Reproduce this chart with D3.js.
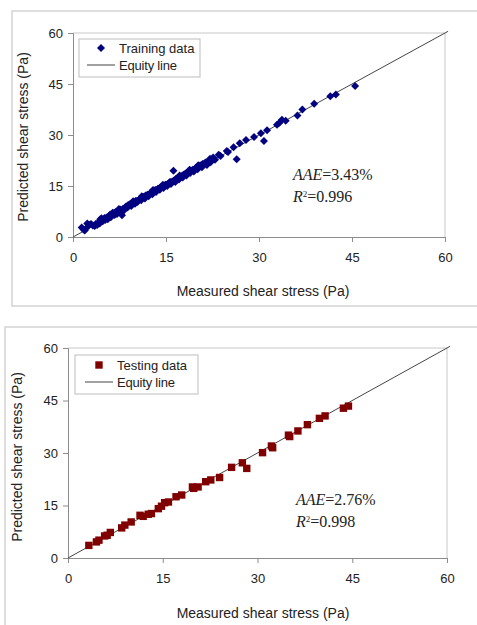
<!DOCTYPE html>
<html>
<head>
<meta charset="utf-8">
<script src="https://cdn.jsdelivr.net/npm/d3@7"></script>
<style>
  html, body { margin: 0; padding: 0; background: #fff; }
  svg { display: block; }
</style>
</head>
<body>
<svg id="chart" width="477" height="625"></svg>
<script>
// Measured vs predicted shear stress (Pa)
const ticks = [0, 15, 30, 45, 60];
const equityLine = [0, 60.5];

const trainMeasured = [
  1.4, 1.7, 1.9, 2.1, 2.3, 2.6, 2.9, 3.2, 3.5, 3.7, 3.9, 4.1, 4.3, 4.5, 4.6, 4.8,
  5.0, 5.2, 5.4, 5.6, 5.8, 6.0, 6.1, 6.3, 6.5, 6.7, 6.9, 7.1, 7.3, 7.5, 7.7, 7.9,
  8.0, 8.2, 8.4, 8.6, 8.8, 9.0, 9.2, 9.4, 9.6, 9.8, 10.0, 10.2, 10.4, 10.6, 10.8,
  11.0, 11.2, 11.4, 11.6, 11.8, 12.0, 12.2, 12.4, 12.6, 12.8, 13.0, 13.2, 13.4,
  13.6, 13.8, 14.0, 14.2, 14.4, 14.6, 14.8, 15.0, 15.2, 15.4, 15.6, 15.8, 16.0,
  16.2, 16.3, 16.5, 16.7, 16.9, 17.1, 17.3, 17.5, 17.7, 17.9, 18.1, 18.3, 18.5,
  18.7, 18.9, 19.1, 19.3, 19.5, 19.7, 19.9, 20.1, 20.3, 20.5, 20.8, 21.0, 21.3,
  21.6, 21.9, 22.2, 22.4, 22.6, 22.9, 23.5, 23.8, 24.8, 25.0, 25.9, 26.4, 26.9,
  27.9, 29.2, 30.3, 30.8, 31.3, 32.9, 33.3, 33.7, 34.3, 36.2, 37.0, 38.9, 41.5,
  42.4, 45.5,
  5.1, 5.9, 6.8, 7.6, 8.5, 9.3, 10.1, 10.9, 11.7, 12.5, 13.3, 14.1, 14.9, 15.7,
  16.6, 17.4, 18.2, 19.0, 19.8, 20.6, 21.4, 22.0, 8.9, 11.3, 13.7, 17.8, 20.9,
  4.4, 6.4, 7.4, 9.7, 11.1, 12.9, 14.5, 17.2, 18.8, 20.2, 22.1
];
const trainPredicted = [
  2.8, 2.2, 1.9, 2.5, 4.0, 3.6, 3.8, 3.4, 3.2, 3.9, 3.5, 4.2, 4.0, 4.8, 5.5, 4.6,
  5.3, 5.0, 5.7, 5.2, 6.1, 6.6, 5.8, 6.4, 7.0, 6.5, 7.2, 6.8, 7.6, 7.9, 7.3, 6.4,
  8.2, 7.8, 8.6, 9.0, 8.7, 9.3, 9.6, 9.1, 9.9, 10.2, 9.8, 10.6, 10.3, 10.9, 11.2,
  10.8, 11.5, 11.8, 11.3, 12.1, 12.4, 12.0, 12.7, 13.0, 12.6, 13.3, 13.7, 13.2,
  13.9, 14.2, 13.9, 14.5, 14.8, 14.4, 15.1, 15.4, 15.0, 15.8, 16.1, 15.6, 16.3,
  19.5, 16.6, 16.2, 17.0, 17.4, 16.9, 17.6, 17.9, 17.5, 18.2, 18.6, 18.1, 18.9,
  19.3, 18.8, 19.5, 19.8, 19.3, 20.1, 20.4, 19.9, 20.7, 21.0, 20.5, 21.4, 21.8,
  21.2, 22.3, 22.0, 22.6, 23.4, 22.7, 24.2, 23.8, 25.3, 25.0, 26.4, 22.9, 27.6,
  28.5, 29.4, 30.5, 28.2, 31.4, 33.0, 33.6, 34.5, 34.2, 35.7, 37.5, 39.2, 41.4,
  41.9, 44.4,
  5.6, 6.3, 7.3, 8.1, 8.9, 9.8, 10.6, 11.4, 12.2, 13.0, 13.8, 14.6, 15.4, 16.2,
  17.1, 17.8, 18.7, 19.5, 20.3, 21.0, 21.9, 22.5, 9.4, 11.8, 14.2, 18.3, 21.5,
  5.2, 7.1, 8.2, 10.5, 12.0, 13.8, 15.4, 18.1, 19.8, 21.1, 23.0
];

const testMeasured = [
  3.3, 4.5, 4.9, 5.8, 6.2, 6.7, 8.5, 9.0, 10.0, 11.4, 11.9, 12.7, 13.2, 14.3,
  14.8, 15.3, 15.9, 17.1, 18.0, 19.7, 19.9, 20.6, 21.8, 22.6, 24.0, 25.9, 27.6,
  28.3, 30.8, 32.2, 32.4, 34.9, 35.1, 36.4, 37.9, 39.8, 40.7, 43.6, 44.4
];
const testPredicted = [
  3.6, 4.6, 5.1, 6.3, 6.5, 7.3, 8.6, 9.4, 10.3, 12.2, 11.9, 12.5, 12.7, 14.1,
  14.8, 15.8, 16.0, 17.5, 18.0, 20.3, 19.9, 20.3, 21.8, 22.3, 23.0, 25.9, 27.2,
  25.6, 30.1, 32.0, 31.5, 35.1, 34.7, 36.3, 38.1, 39.9, 40.6, 42.8, 43.4
];

const AAE_train = "3.43%", R2_train = "0.996";
const AAE_test = "2.76%", R2_test = "0.998";

const svg = d3.select("#chart");
const sans = "'Liberation Sans', Arial, sans-serif";
const serif = "'Liberation Serif', 'Times New Roman', serif";

function panel(cfg) {
  const g = svg.append("g");

  // outer chart frame
  g.append("rect")
    .attr("x", cfg.frame[0]).attr("y", cfg.frame[1])
    .attr("width", cfg.frame[2]).attr("height", cfg.frame[3])
    .attr("fill", "none").attr("stroke", "#d4d4d4").attr("stroke-width", 1.5);

  const x = d3.scaleLinear().domain([0, 60]).range([cfg.left, cfg.right]);
  const y = d3.scaleLinear().domain([0, 60]).range([cfg.bottom, cfg.top]);

  // plot area border (top and right)
  g.append("path")
    .attr("d", `M${cfg.left},${cfg.top}H${cfg.right}V${cfg.bottom}`)
    .attr("fill", "none").attr("stroke", "#c8c8c8").attr("stroke-width", 1);

  const xAxis = g.append("g")
    .attr("transform", `translate(0,${cfg.bottom})`)
    .call(d3.axisBottom(x).tickValues(ticks).tickSize(5).tickPadding(11));
  const yAxis = g.append("g")
    .attr("transform", `translate(${cfg.left},0)`)
    .call(d3.axisLeft(y).tickValues(ticks).tickSize(5).tickPadding(5));
  [xAxis, yAxis].forEach(a => {
    a.select(".domain").attr("stroke", "#8c8c8c");
    a.selectAll(".tick line").attr("stroke", "#8c8c8c");
    a.selectAll(".tick text")
      .attr("font-family", sans).attr("font-size", 13).attr("fill", "#222");
  });

  // equity line
  g.append("line")
    .attr("x1", x(equityLine[0])).attr("y1", y(equityLine[0]))
    .attr("x2", x(equityLine[1])).attr("y2", y(equityLine[1]))
    .attr("stroke", "#444").attr("stroke-width", 1);

  // data markers
  const pts = cfg.xs.map((v, i) => [v, cfg.ys[i]]);
  g.append("g").selectAll("path").data(pts).join("path")
    .attr("transform", d => `translate(${x(d[0])},${y(d[1])})`)
    .attr("d", cfg.marker)
    .attr("fill", cfg.color);

  // axis titles
  g.append("text")
    .attr("x", cfg.xLabel[0]).attr("y", cfg.xLabel[1])
    .attr("text-anchor", "middle")
    .attr("font-family", sans).attr("font-size", 14).attr("fill", "#222")
    .text("Measured shear stress (Pa)");
  g.append("text")
    .attr("transform", `translate(${cfg.yLabel[0]},${cfg.yLabel[1]}) rotate(-90)`)
    .attr("text-anchor", "middle").attr("dy", "0.35em")
    .attr("font-family", sans).attr("font-size", 14).attr("fill", "#222")
    .text("Predicted shear stress (Pa)");

  // legend
  const lg = cfg.legend;
  g.append("rect")
    .attr("x", lg.box[0]).attr("y", lg.box[1])
    .attr("width", lg.box[2]).attr("height", lg.box[3])
    .attr("fill", "#fff").attr("stroke", "#bdbdbd").attr("stroke-width", 1);
  g.append("path")
    .attr("transform", `translate(${lg.markerX},${lg.row1})`)
    .attr("d", cfg.marker).attr("fill", cfg.color);
  g.append("text")
    .attr("x", lg.textX).attr("y", lg.row1).attr("dy", "0.35em")
    .attr("font-family", sans).attr("font-size", 13).attr("fill", "#222")
    .text(cfg.name);
  g.append("line")
    .attr("x1", lg.lineX[0]).attr("x2", lg.lineX[1])
    .attr("y1", lg.row2).attr("y2", lg.row2)
    .attr("stroke", "#444").attr("stroke-width", 1);
  g.append("text")
    .attr("x", lg.textX).attr("y", lg.row2).attr("dy", "0.35em")
    .attr("font-family", sans).attr("font-size", 13).attr("fill", "#222")
    .attr("letter-spacing", "-0.2")
    .text("Equity line");

  // error statistics
  const t1 = g.append("text")
    .attr("x", cfg.stats[0]).attr("y", cfg.stats[1])
    .attr("font-family", serif).attr("font-size", 16).attr("fill", "#222");
  t1.append("tspan").attr("font-style", "italic").text("AAE");
  t1.append("tspan").text("=" + cfg.aae);
  const t2 = g.append("text")
    .attr("x", cfg.stats[0]).attr("y", cfg.stats[1] + 22)
    .attr("font-family", serif).attr("font-size", 16).attr("fill", "#222");
  t2.append("tspan").attr("font-style", "italic").text("R");
  t2.append("tspan").attr("font-size", 9).attr("dy", -5).text("2");
  t2.append("tspan").attr("dy", 5).text("=" + cfg.r2);
}

const diamond = "M0,-4L4,0L0,4L-4,0Z";
const square = "M-3.7,-3.7H3.7V3.7H-3.7Z";

panel({
  frame: [12, 11, 480, 295],
  left: 73, right: 445, top: 33, bottom: 237,
  xs: trainMeasured, ys: trainPredicted,
  marker: diamond, color: "#000080", name: "Training data",
  xLabel: [263, 296], yLabel: [23, 137],
  legend: { box: [79, 39, 121, 38], markerX: 101, textX: 119,
            row1: 48, row2: 65, lineX: [87, 115] },
  stats: [293, 180], aae: AAE_train, r2: R2_train
});

panel({
  frame: [5, 327, 480, 310],
  left: 68, right: 447, top: 348, bottom: 558,
  xs: testMeasured, ys: testPredicted,
  marker: square, color: "#800000", name: "Testing data",
  xLabel: [263, 618], yLabel: [17, 457],
  legend: { box: [75, 355, 123, 39], markerX: 99, textX: 117,
            row1: 365, row2: 382, lineX: [85, 113] },
  stats: [296, 505], aae: AAE_test, r2: R2_test
});
</script>
</body>
</html>
